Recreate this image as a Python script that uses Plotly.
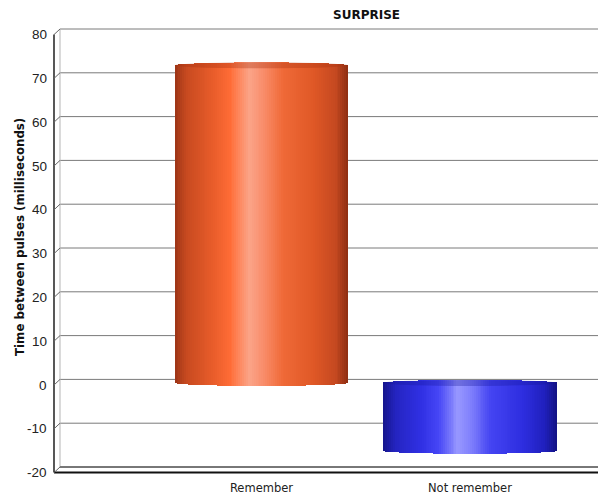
import numpy as np
import plotly.graph_objects as go

# ---- data -------------------------------------------------------------
categories = ["Remember", "Not remember"]
values = [72.5, -15.5]
y_ticks = [-20, -10, 0, 10, 20, 30, 40, 50, 60, 70, 80]
chart_title = "SURPRISE"
y_title = "Time between pulses (milliseconds)"

# ---- styling ----------------------------------------------------------
W, H = 598, 498
M_L, M_R, M_T, M_B = 60, 0, 29, 31
Y_MIN, Y_MAX = -20, 80
PLOT_H = H - M_T - M_B
PX_PER_UNIT = PLOT_H / (Y_MAX - Y_MIN)

DEPTH_X, DEPTH_Y = 6, 5.6          # front plane offset (px)
BAR_SHIFT = 3.5 / PX_PER_UNIT       # bars sit slightly in front of the back wall
CAP = 3.0 / PX_PER_UNIT             # half-height of the cylinder end ellipses
BAR_WIDTH = 0.832
N_STRIPS = 90
X_RANGE = [-0.966, 1.614]

ORANGE = [(0.00, "#9c3416"), (0.07, "#c84a20"), (0.22, "#e85c2a"), (0.32, "#ff6c36"),
          (0.43, "#fba488"), (0.51, "#f98e6c"), (0.62, "#f06a38"), (0.80, "#e05826"),
          (0.93, "#c44820"), (1.00, "#8e2e12")]
BLUE = [(0.00, "#15158c"), (0.07, "#2424c0"), (0.22, "#3030e4"), (0.32, "#4646f6"),
        (0.43, "#9898ff"), (0.51, "#7e7efc"), (0.62, "#4444f2"), (0.80, "#2e2ee0"),
        (0.93, "#2020be"), (1.00, "#121282")]
PALETTES = [ORANGE, BLUE]
CAP_FILL = ["rgba(170,50,15,0.35)", "rgba(20,20,150,0.30)"]


def hex_rgb(h):
    h = h.lstrip("#")
    return np.array([int(h[i:i + 2], 16) for i in (0, 2, 4)], dtype=float)


def shade(stops, t):
    pos = np.array([s[0] for s in stops])
    cols = np.array([hex_rgb(s[1]) for s in stops])
    rgb = [np.interp(t, pos, cols[:, k]) for k in range(3)]
    return "rgb(%d,%d,%d)" % tuple(int(round(c)) for c in rgb)


def frac(v):
    return (v - Y_MIN) / (Y_MAX - Y_MIN)


fig = go.Figure()
shapes = []
annotations = []

# ---- cylinders: many thin vertical strips shaded across the width -----
u = (np.arange(N_STRIPS) + 0.5) / N_STRIPS
arc = CAP * np.sqrt(np.clip(1 - (2 * u - 1) ** 2, 0, 1))
strip_w = BAR_WIDTH / N_STRIPS

for i, (cat, v) in enumerate(zip(categories, values)):
    top, bot = max(0.0, v), min(0.0, v)
    xs = i - BAR_WIDTH / 2 + u * BAR_WIDTH
    base = bot - arc
    length = (top + arc) - base
    fig.add_trace(go.Bar(
        x=xs, y=length, base=base, width=strip_w * 1.08,
        marker=dict(color=[shade(PALETTES[i], t) for t in u], line=dict(width=0)),
        yaxis="y2", name=cat, showlegend=False, hoverinfo="skip",
    ))
    # top face of the cylinder
    shapes.append(dict(type="circle", xref="x", yref="y2", layer="above",
                       x0=i - BAR_WIDTH / 2, x1=i + BAR_WIDTH / 2,
                       y0=top - CAP, y1=top + CAP,
                       fillcolor=CAP_FILL[i], line=dict(width=0)))

# ---- back wall grid lines ---------------------------------------------
for t in y_ticks:
    shapes.append(dict(type="line", xref="paper", yref="paper", layer="below",
                       x0=0, x1=1, y0=frac(t), y1=frac(t),
                       line=dict(color="#7a7a7a", width=1)))
shapes.append(dict(type="line", xref="paper", yref="paper", layer="below",
                   x0=0, x1=0, y0=0, y1=1, line=dict(color="#b5b5b5", width=1)))
shapes.append(dict(type="line", xref="paper", yref="paper", layer="below",
                   x0=0, x1=1, y0=0, y1=0, line=dict(color="#333333", width=1)))

# ---- front frame of the 3D box ---------------------------------------
frame = dict(xref="paper", yref="paper", xsizemode="pixel", ysizemode="pixel",
             xanchor=0, layer="above")
shapes.append(dict(type="line", yanchor=0, x0=-DEPTH_X, x1=-DEPTH_X,
                   y0=-DEPTH_Y, y1=PLOT_H - DEPTH_Y,
                   line=dict(color="#111111", width=1.4), **frame))
shapes.append(dict(type="line", yanchor=0, x0=-DEPTH_X, x1=W,
                   y0=-DEPTH_Y, y1=-DEPTH_Y,
                   line=dict(color="#111111", width=2), **frame))
for t in y_ticks:
    shapes.append(dict(type="line", yanchor=frac(t),
                       x0=-DEPTH_X, x1=0, y0=-DEPTH_Y, y1=0,
                       line=dict(color="#666666", width=1), **frame))
    # tick label at the front end of each tick
    annotations.append(dict(text=str(t), xref="paper", yref="paper",
                            x=0, xshift=-DEPTH_X - 5, y=frac(t), yshift=-DEPTH_Y,
                            xanchor="right", yanchor="middle", showarrow=False,
                            font=dict(family="Liberation Sans", size=13.5,
                                      color="#222222")))

annotations += [
    dict(text="<b>%s</b>" % chart_title, xref="paper", yref="paper",
         x=(366 - M_L) / (W - M_L - M_R), y=1, yshift=14, showarrow=False,
         xanchor="center", yanchor="middle",
         font=dict(family="DejaVu Sans", size=12, color="#111111")),
    dict(text="<b>%s</b>" % y_title, xref="paper", yref="paper",
         x=0, xshift=-40, y=0.5, yshift=11, textangle=-90, showarrow=False,
         xanchor="center", yanchor="middle",
         font=dict(family="DejaVu Sans", size=11.8, color="#111111")),
]

fig.update_layout(
    width=W, height=H, autosize=False,
    margin=dict(l=M_L, r=M_R, t=M_T, b=M_B, pad=0),
    paper_bgcolor="white", plot_bgcolor="white",
    barmode="overlay", bargap=0,
    shapes=shapes, annotations=annotations,
    xaxis=dict(range=X_RANGE, tickmode="array", tickvals=list(range(len(categories))),
               ticktext=categories, showgrid=False, zeroline=False,
               showline=False, ticks="", ticklabelstandoff=12,
               tickfont=dict(family="DejaVu Sans", size=11.5, color="#222222")),
    yaxis=dict(range=[Y_MIN, Y_MAX], showgrid=False, zeroline=False,
               showline=False, showticklabels=False, ticks=""),
    yaxis2=dict(range=[Y_MIN + BAR_SHIFT, Y_MAX + BAR_SHIFT], overlaying="y",
                visible=False),
)

fig.write_html("out.html")
